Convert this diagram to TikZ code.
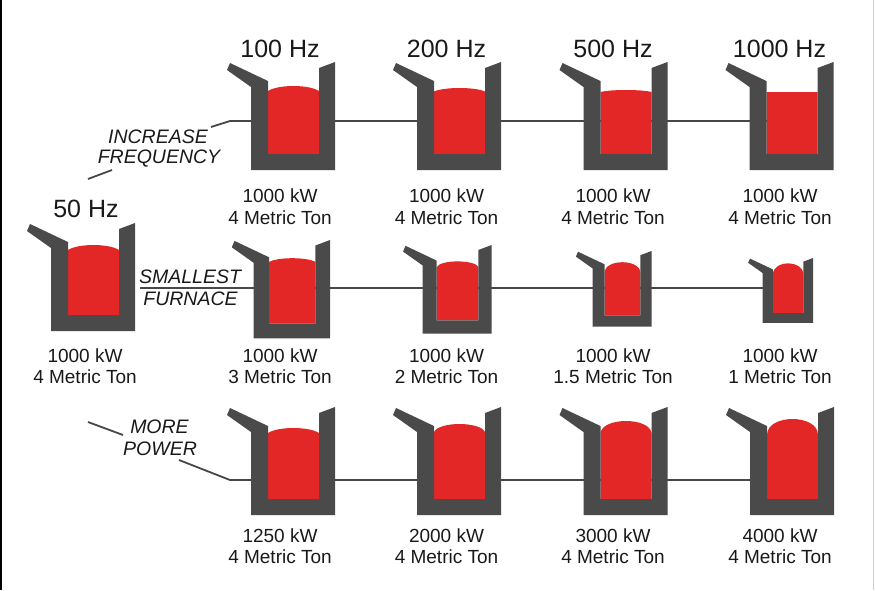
\documentclass[tikz,border=0pt]{standalone}
\usepackage{fontspec}
\setmainfont{Liberation Sans}
\usetikzlibrary{calc}
\definecolor{fgray}{HTML}{4A4A4A}
\definecolor{fred}{HTML}{E32726}
\definecolor{lgray}{HTML}{474747}
\definecolor{edgegray}{HTML}{D0D0D0}
\pgfdeclarelayer{background}
\pgfsetlayers{background,main}
\tikzset{
  pics/furnace/.style n args={4}{code={
    \begin{scope}[scale=#1]
      \fill[fred] (-12,#2) .. controls ({-12+#4*51},{#2-1.333*#3}) and ({39-#4*51},{#2-1.333*#3}) .. (39,#2) -- (39,92) -- (-12,92) -- cycle;
      \fill[fgray] (-50,1) -- (-12,19) -- (-12,92) -- (39,92) -- (39,6) -- (55,0) -- (55,108) -- (-29,108) -- (-29,25) -- (-53,8) -- cycle;
      \coordinate (-body) at (13,50);
    \end{scope}
  }},
  lbl/.style={font=\fontsize{19}{22}\selectfont, anchor=base, inner sep=0pt, text=black!90},
  hz/.style={font=\fontsize{25}{30}\selectfont, anchor=base, inner sep=0pt, text=black!90},
  note/.style={font=\itshape\fontsize{19.5}{22}\selectfont, anchor=base, inner sep=0pt, text=black!90},
  conn/.style={draw=lgray, line width=1.8pt},
}
\begin{document}
\begin{tikzpicture}[x=1pt,y=-1pt]
\useasboundingbox (0,0) rectangle (875,590);
% frame edges
\draw[black, line width=2pt] (1,0) -- (1,590);
\draw[edgegray, line width=1.5pt] (873.5,0) -- (873.5,590);

% ---- 50 Hz reference furnace
\node[hz] (hz50) at (86,217) {50 Hz};
\pic (f0) at (80,223) {furnace={1}{27}{5}{0.2}};
\node[lbl] (p0) at (85,362) {1000 kW};
\node[lbl] (m0) at (85,383) {4 Metric Ton};

% ---- Row 1: increase frequency
\node[hz] (hz1) at (280,57) {100 Hz};
\node[hz] (hz2) at (446.5,57) {200 Hz};
\node[hz] (hz3) at (613,57) {500 Hz};
\node[hz] (hz4) at (779.5,57) {1000 Hz};
\pic (f11) at (280,62) {furnace={1}{29}{5}{0.2}};
\pic (f12) at (446,62) {furnace={1}{29.5}{3.5}{0.2}};
\pic (f13) at (612.5,62) {furnace={1}{30}{2}{0.2}};
\pic (f14) at (778.5,62) {furnace={1}{30}{0}{0.2}};
\node[lbl] (p11) at (280,202) {1000 kW};
\node[lbl] (m11) at (280,224) {4 Metric Ton};
\node[lbl] (p12) at (446.5,202) {1000 kW};
\node[lbl] (m12) at (446.5,224) {4 Metric Ton};
\node[lbl] (p13) at (613,202) {1000 kW};
\node[lbl] (m13) at (613,224) {4 Metric Ton};
\node[lbl] (p14) at (780,202) {1000 kW};
\node[lbl] (m14) at (780,224) {4 Metric Ton};
\node[note] (n1a) at (158,143) {INCREASE};
\node[note] (n1b) at (159,163) {FREQUENCY};

% ---- Row 2: smallest furnace
\pic (f21) at (280,240) {furnace={0.91}{24}{4}{0.2}};
\pic (f22) at (446.5,245) {furnace={0.82}{27}{7}{0.08}};
\pic (f23) at (613,251) {furnace={0.70}{31}{15}{0}};
\pic (f24) at (780,258) {furnace={0.60}{28}{19}{0}};
\node[lbl] (p21) at (280,362) {1000 kW};
\node[lbl] (m21) at (280,383) {3 Metric Ton};
\node[lbl] (p22) at (446.5,362) {1000 kW};
\node[lbl] (m22) at (446.5,383) {2 Metric Ton};
\node[lbl] (p23) at (613,362) {1000 kW};
\node[lbl] (m23) at (613,383) {1.5 Metric Ton};
\node[lbl] (p24) at (780,362) {1000 kW};
\node[lbl] (m24) at (780,383) {1 Metric Ton};
\node[note] (n2a) at (190,283) {SMALLEST};
\node[note] (n2b) at (190.5,305) {FURNACE};

% ---- Row 3: more power
\pic (f31) at (280,407) {furnace={1}{26}{5}{0.2}};
\pic (f32) at (446,407) {furnace={1}{25}{8}{0.1}};
\pic (f33) at (612.5,407) {furnace={1}{26}{12}{0.04}};
\pic (f34) at (779,407) {furnace={1}{28}{16}{0}};
\node[lbl] (p31) at (280,542) {1250 kW};
\node[lbl] (m31) at (280,563) {4 Metric Ton};
\node[lbl] (p32) at (446.5,542) {2000 kW};
\node[lbl] (m32) at (446.5,563) {4 Metric Ton};
\node[lbl] (p33) at (613,542) {3000 kW};
\node[lbl] (m33) at (613,563) {4 Metric Ton};
\node[lbl] (p34) at (780,542) {4000 kW};
\node[lbl] (m34) at (780,563) {4 Metric Ton};
\node[note] (n3a) at (159.5,433) {MORE};
\node[note] (n3b) at (160,455) {POWER};

% ---- connectors
\coordinate (a1) at (88,179);
\coordinate (a2) at (112,170);
\coordinate (a3) at (211,127);
\coordinate (k1) at (230,121);
\coordinate (k2) at (140,288);
\coordinate (b1) at (88,422);
\coordinate (b2) at (123,435);
\coordinate (b3) at (179,460);
\coordinate (k3) at (230,480);
\begin{pgfonlayer}{background}
  \draw[conn] (a1) -- (a2);
  \draw[conn] (a3) -- (k1) -- (k1 -| f14-body);
  \draw[conn] (k2) -- (k2 -| f24-body);
  \draw[conn] (b1) -- (b2);
  \draw[conn] (b3) -- (k3) -- (k3 -| f34-body);
\end{pgfonlayer}
\end{tikzpicture}
\end{document}
